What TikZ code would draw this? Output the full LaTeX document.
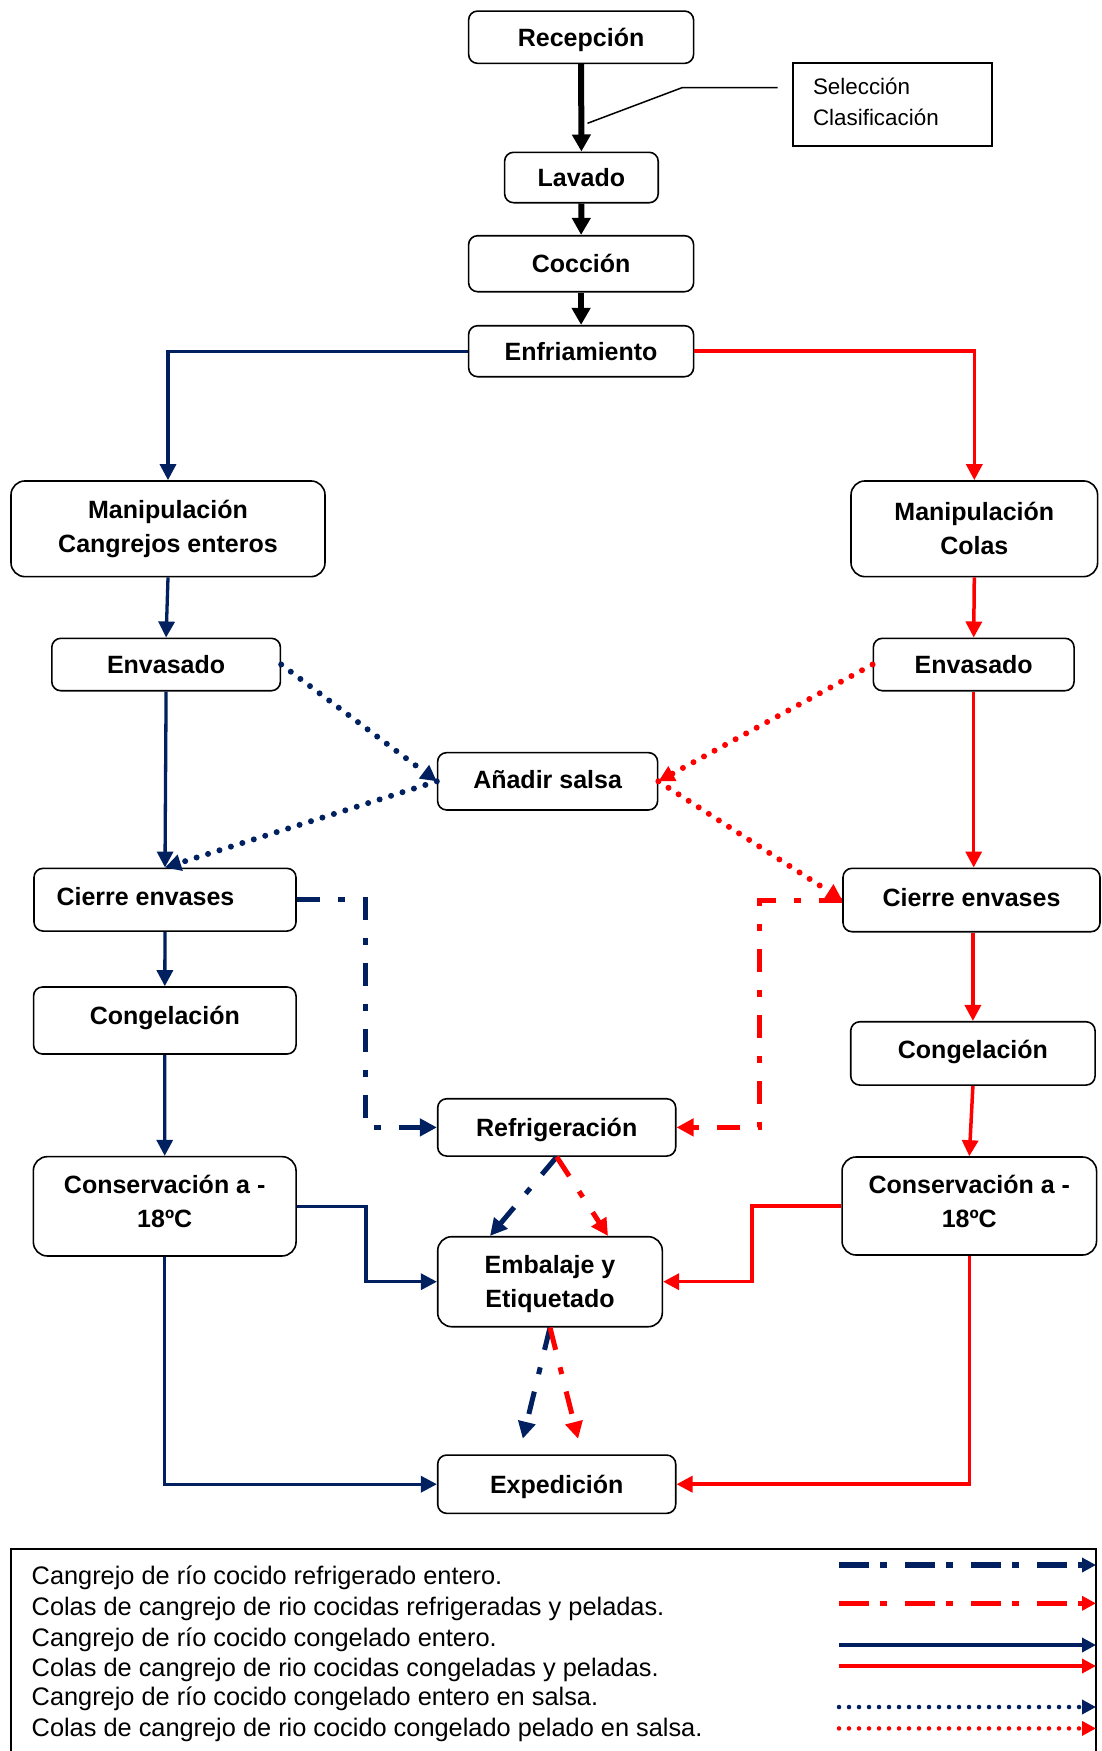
\documentclass[tikz,border=0pt]{standalone}
\usepackage{fontspec}
\setmainfont{Liberation Sans}
\usetikzlibrary{arrows.meta}
\definecolor{navy}{HTML}{002060}
\definecolor{rojo}{HTML}{FF0000}

\begin{document}
\begin{tikzpicture}[x=1pt,y=-1pt,
  box/.style={draw=black, line width=1.6pt, rounded corners=9pt, fill=white,
    font=\fontsize{25}{34}\selectfont\bfseries, inner sep=0pt,
    text height=18pt, text depth=0pt},
  twobox/.style={draw=black, line width=1.6pt, rounded corners=14pt, fill=white,
    font=\fontsize{25}{34}\selectfont\bfseries, inner sep=0pt, align=center},
  twotext/.style={font=\fontsize{25}{34}\selectfont\bfseries, inner sep=0pt, align=center},
  notebox/.style={draw=black, line width=1.8pt, rectangle,
    font=\fontsize{22.4}{31}\selectfont, align=left, text width=158pt,
    inner xsep=20.5pt, inner ysep=0pt},
  notetext/.style={font=\fontsize{22.4}{31}\selectfont, align=left, inner sep=0pt},
  legtext/.style={font=\fontsize{25.35}{30}\selectfont, inner sep=0pt,
    text height=18pt, text depth=0pt, anchor=west},
  tip/.style={-{Triangle[length=16pt,width=16pt]}},
  blk/.style={line width=6pt, -{Triangle[length=17pt,width=18pt]}},
  bsol/.style={color=navy, line width=3.3pt, tip},
  rsol/.style={color=rojo, line width=3.5pt, tip},
  bdot/.style={color=navy, line width=6pt, line cap=round, dash pattern=on 0pt off 12pt, tip},
  rdot/.style={color=rojo, line width=6pt, line cap=round, dash pattern=on 0pt off 12pt, tip},
  bdd/.style={color=navy, line width=5pt, dash pattern=on 23pt off 18pt on 7pt off 18pt,
    -{Triangle[length=17pt,width=17pt]}},
  rdd/.style={color=rojo, line width=5pt, dash pattern=on 23pt off 18pt on 7pt off 18pt,
    -{Triangle[length=17pt,width=17pt]}},
  legtip/.style={-{Triangle[length=14pt,width=14pt]}},
]
\useasboundingbox (0,0) rectangle (1101,1751);

% ---- common trunk ----
\node[box, minimum width=225pt, minimum height=52.3pt] (rec) at (581.1,37.2) {Recepción};
\node[box, minimum width=153.6pt, minimum height=50.4pt] (lav) at (581.4,177.5) {Lavado};
\node[box, minimum width=225pt, minimum height=56pt] (coc) at (581.1,263.7) {Cocción};
\node[box, minimum width=225pt, minimum height=51pt] (enf) at (581.1,351.2) {Enfriamiento};
\node[draw=black, line width=1.8pt, rectangle, minimum width=199pt, minimum height=82.7pt] (sel) at (892.5,104.7) {};
\node[notetext, anchor=west] (selt) at ([xshift=20.7pt, yshift=2.4pt]sel.west) {Selección\\Clasificación};

% ---- left branch: whole crayfish ----
\node[twobox, minimum width=314pt, minimum height=95.7pt] (mL) at (168,528.8) {Manipulación\\Cangrejos enteros};
\node[box, minimum width=228.6pt, minimum height=52.4pt] (eL) at (166.1,664.5) {Envasado};
\node[box, minimum width=262pt, minimum height=62.7pt, text depth=6pt] (cL) at (165,899.7) {Cierre envases\hspace*{39pt}};
\node[box, minimum width=262.5pt, minimum height=67pt, text depth=11pt] (gL) at (164.8,1020.5) {Congelación};
\node[twobox, minimum width=262.7pt, minimum height=99.3pt] (kL) at (164.7,1206.3) {};
\node[twotext] (kLt) at ([yshift=4.5pt]kL.center) {Conservación a -\\18ºC};

% ---- right branch: tails ----
\node[twobox, minimum width=246.6pt, minimum height=95.7pt] (mR) at (974.3,528.8) {Manipulación\\Colas};
\node[box, minimum width=200.7pt, minimum height=52.4pt] (eR) at (973.7,664.5) {Envasado};
\node[box, minimum width=257pt, minimum height=63.4pt, text depth=6pt] (cR) at (971.5,900) {Cierre envases};
\node[box, minimum width=244.3pt, minimum height=63.3pt, text depth=7pt] (gR) at (972.9,1053.4) {Congelación};
\node[twobox, minimum width=254.5pt, minimum height=98pt] (kR) at (969.3,1206) {};
\node[twotext] (kRt) at ([yshift=4.5pt]kR.center) {Conservación a -\\18ºC};

% ---- centre column ----
\node[box, minimum width=220pt, minimum height=57.3pt, text depth=4pt] (sal) at (547.6,781.3) {Añadir salsa};
\node[box, minimum width=238pt, minimum height=57.3pt] (ref) at (556.7,1127.4) {Refrigeración};
\node[twobox, minimum width=224.6pt, minimum height=90pt] (emb) at (550,1281.7) {};
\node[twotext] (embt) at ([yshift=-2.5pt]emb.center) {Embalaje y\\Etiquetado};
\node[box, minimum width=238pt, minimum height=58.3pt] (exp) at (556.7,1484.2) {Expedición};

% ---- trunk arrows and callout ----
\draw[blk] (rec.south) -- (lav.north);
\draw[blk] (lav.south) -- (coc.north);
\draw[blk] (coc.south) -- (enf.north);
\coordinate (cal1) at (587.5,123.3);
\coordinate (cal2) at (682,87.7);
\coordinate (cal3) at (777.5,87.7);
\draw[line width=1.5pt] (cal1) -- (cal2) -- (cal3);

% ---- frozen flows (solid) ----
\draw[bsol] (enf.west) -| (mL.north);
\draw[rsol] (enf.east) -| (mR.north);
\draw[bsol] (mL.south) -- (eL.north);
\draw[rsol] (mR.south) -- (eR.north);
\draw[bsol] (eL.south) -- (cL.north);
\draw[rsol] (eR.south) -- (eR.south |- cR.north);
\draw[bsol] (cL.south) -- (gL.north);
\draw[rsol] (gR.north |- cR.south) -- (gR.north);
\draw[bsol] (gL.south) -- (kL.north);
\draw[rsol] (gR.south) -- (kR.north);
\draw[bsol] (kL.east) -| ([xshift=-71pt]emb.west) -- (emb.west);
\draw[rsol] (kR.west) -| ([xshift=89pt]emb.east) -- (emb.east);
\draw[bsol] (kL.south) |- (exp.west);
\draw[rsol] (kR.south) |- (exp.east);

% ---- sauce flows (dotted) ----
\draw[bdot] (eL.east) -- (sal.west);
\draw[bdot] (sal.west) -- (cL.north);
\draw[rdot] (eR.west) -- (sal.east);
\draw[rdot] (sal.east) -- (cR.west);

% ---- chilled flows (dash-dot) ----
\draw[bdd] (cL.east) -| ([xshift=-71pt]ref.west) -- (ref.west);
\draw[rdd] (cR.west) -| ([xshift=83pt]ref.east) -- (ref.east);
\draw[bdd] (ref.south) -- ([xshift=-60pt]emb.north);
\draw[rdd] (ref.south) -- ([xshift=58pt]emb.north);
\draw[bdd, shorten >=16pt] (emb.south) -- ([xshift=-37.7pt]exp.north);
\draw[rdd, shorten >=16pt] (emb.south) -- ([xshift=25.3pt]exp.north);

% ---- legend ----
\draw[line width=1.8pt] (11,1549) rectangle (1096,1780);
\node[legtext] (t1) at (31.5,1575.5) {Cangrejo de río cocido refrigerado entero.};
\node[legtext] (t2) at (31.5,1606.8) {Colas de cangrejo de rio cocidas refrigeradas y peladas.};
\node[legtext] (t3) at (31.5,1637) {Cangrejo de río cocido congelado entero.};
\node[legtext] (t4) at (31.5,1667) {Colas de cangrejo de rio cocidas congeladas y peladas.};
\node[legtext] (t5) at (31.5,1696) {Cangrejo de río cocido congelado entero en salsa.};
\node[legtext] (t6) at (31.5,1727.4) {Colas de cangrejo de rio cocido congelado pelado en salsa.};

\coordinate (a1) at (839,1565);   \coordinate (b1) at (1096,1565);
\coordinate (a2) at (839,1603.3); \coordinate (b2) at (1096,1603.3);
\coordinate (a3) at (839,1645);   \coordinate (b3) at (1096,1645);
\coordinate (a4) at (839,1666);   \coordinate (b4) at (1096,1666);
\coordinate (a5) at (839,1707);   \coordinate (b5) at (1096,1707);
\coordinate (a6) at (839,1728.4); \coordinate (b6) at (1096,1728.4);
\draw[color=navy, line width=5.5pt, dash pattern=on 30pt off 11pt on 7pt off 18pt, legtip] (a1) -- (b1);
\draw[color=rojo, line width=5.5pt, dash pattern=on 30pt off 11pt on 7pt off 18pt, legtip] (a2) -- (b2);
\draw[color=navy, line width=4pt, legtip] (a3) -- (b3);
\draw[color=rojo, line width=4pt, legtip] (a4) -- (b4);
\draw[color=navy, line width=4.5pt, line cap=round, dash pattern=on 0pt off 10pt, legtip] (a5) -- (b5);
\draw[color=rojo, line width=4.5pt, line cap=round, dash pattern=on 0pt off 10pt, legtip] (a6) -- (b6);
\end{tikzpicture}
\end{document}
